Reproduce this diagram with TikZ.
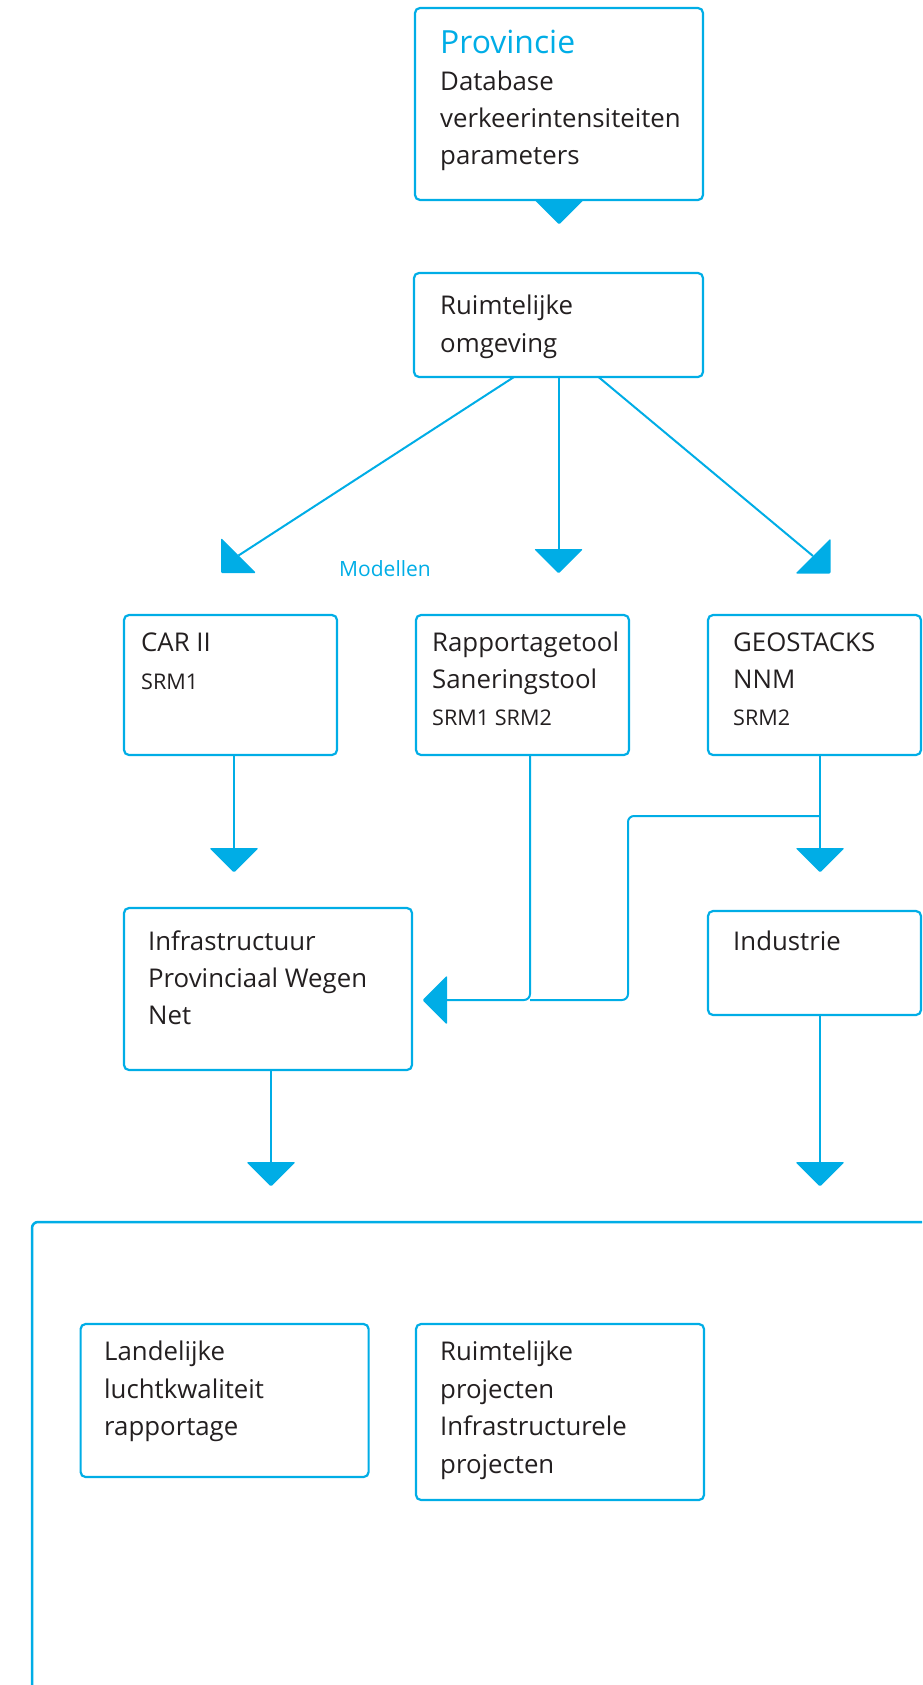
\documentclass[tikz,border=0pt]{standalone}
\usepackage{fontspec}
\setmainfont{Open Sans}
\definecolor{acol}{HTML}{00ADE6}
\definecolor{tcol}{HTML}{231F20}
\begin{document}
\begin{tikzpicture}[x=1pt,y=-1pt,
  box/.style={draw=acol, line width=2.2pt, rounded corners=5pt, inner sep=0pt, outer sep=0pt, anchor=north west},
  conn/.style={draw=acol, line width=2pt},
  txt/.style={anchor=base west, inner sep=0pt, text=tcol, font=\fontsize{25.8}{30}\selectfont},
  subtxt/.style={txt, font=\fontsize{21.6}{25}\selectfont},
  adown/.pic={\fill[acol, rounded corners=1.2pt] (-24.5,0) -- (24.5,0) -- (0,24.5) -- cycle;},
  aleft/.pic={\fill[acol, rounded corners=1.2pt] (0,-24.5) -- (0,24.5) -- (-24.5,0) -- cycle;},
  adl/.pic={\fill[acol, rounded corners=1.2pt] (-17.5,-17.5) -- (17.5,17.5) -- (-17.5,17.5) -- cycle;},
  adr/.pic={\fill[acol, rounded corners=1.2pt] (17.5,-17.5) -- (-17.5,17.5) -- (17.5,17.5) -- cycle;}
]
\useasboundingbox (0,0) rectangle (922,1685);
\clip (0,0) rectangle (922,1685);

% boxes
\node[box, minimum width=288pt, minimum height=192pt] (prov) at (415,8) {};
\node[box, minimum width=289pt, minimum height=104pt] (ro) at (414,273) {};
\node[box, minimum width=213pt, minimum height=140pt] (car) at (124,615) {};
\node[box, minimum width=213pt, minimum height=140pt] (rap) at (416,615) {};
\node[box, minimum width=213pt, minimum height=140pt] (geo) at (708,615) {};
\node[box, minimum width=288pt, minimum height=162pt] (infra) at (124,908) {};
\node[box, minimum width=213pt, minimum height=104pt] (ind) at (708,911) {};
\node[box, line width=2.5pt, rounded corners=6pt, minimum width=950pt, minimum height=600pt] (big) at (32,1222) {};
\node[box, minimum width=288pt, minimum height=153pt] (land) at (80.6,1324) {};
\node[box, minimum width=288pt, minimum height=176pt] (rp) at (416,1324) {};

% texts
\node[txt, text=acol, font=\fontsize{31.9}{36}\selectfont] (t1) at (440,54) {Provincie};
\node[txt] (t2) at (440,91) {Database};
\node[txt] (t3) at (440,128) {verkeerintensiteiten};
\node[txt] (t4) at (440,165) {parameters};
\node[txt] (t5) at (440,315) {Ruimtelijke};
\node[txt] (t6) at (440,352) {omgeving};
\node[txt, text=acol, font=\fontsize{21}{24}\selectfont] (t7) at (339,576.5) {Modellen};
\node[txt] (t8) at (141,651) {CAR II};
\node[subtxt] (t9) at (141,689) {SRM1};
\node[txt] (t10) at (432,651) {Rapportagetool};
\node[txt] (t11) at (432,688) {Saneringstool};
\node[subtxt] (t12) at (432,725) {SRM1 SRM2};
\node[txt] (t13) at (733,651) {GEOSTACKS};
\node[txt] (t14) at (733,688) {NNM};
\node[subtxt] (t15) at (733,725) {SRM2};
\node[txt] (t16) at (148,950) {Infrastructuur};
\node[txt] (t17) at (148,987) {Provinciaal Wegen};
\node[txt] (t18) at (148,1024) {Net};
\node[txt] (t19) at (733,950) {Industrie};
\node[txt] (t20) at (104,1360) {Landelijke};
\node[txt] (t21) at (104,1398) {luchtkwaliteit};
\node[txt] (t22) at (104,1435) {rapportage};
\node[txt] (t23) at (440,1360) {Ruimtelijke};
\node[txt] (t24) at (440,1398) {projecten};
\node[txt] (t25) at (440,1435) {Infrastructurele};
\node[txt] (t26) at (440,1473) {projecten};

% arrow end points
\coordinate (e1) at (238.5,555.5);
\coordinate (e2) at (558.5,549);
\coordinate (e3) at (813,556);
\coordinate (e4) at (234,848);
\coordinate (e5) at (447,1000);
\coordinate (e6) at (820,848);
\coordinate (e7) at (271,1162);
\coordinate (e8) at (820,1162);

% connectors
\pic at (prov.south) {adown};
\draw[conn] (ro.south -| 514,0) -- (e1);
\pic at (e1) {adl};
\draw[conn] (ro.south) -- (e2);
\pic at (e2) {adown};
\draw[conn] (ro.south -| 598.5,0) -- (e3);
\pic at (e3) {adr};
\draw[conn] (car.south -| e4) -- (e4);
\pic at (e4) {adown};
\draw[conn, rounded corners=6pt] (rap.south -| 530,0) -- (530,1000) -- (e5);
\draw[conn, rounded corners=6pt] (geo.south -| e6) ++(0,61) -- (628,816) -- (628,1000) -- (530,1000);
\pic at (e5) {aleft};
\draw[conn] (geo.south -| e6) -- (e6);
\pic at (e6) {adown};
\draw[conn] (infra.south -| e7) -- (e7);
\pic at (e7) {adown};
\draw[conn] (ind.south -| e8) -- (e8);
\pic at (e8) {adown};
\end{tikzpicture}
\end{document}
